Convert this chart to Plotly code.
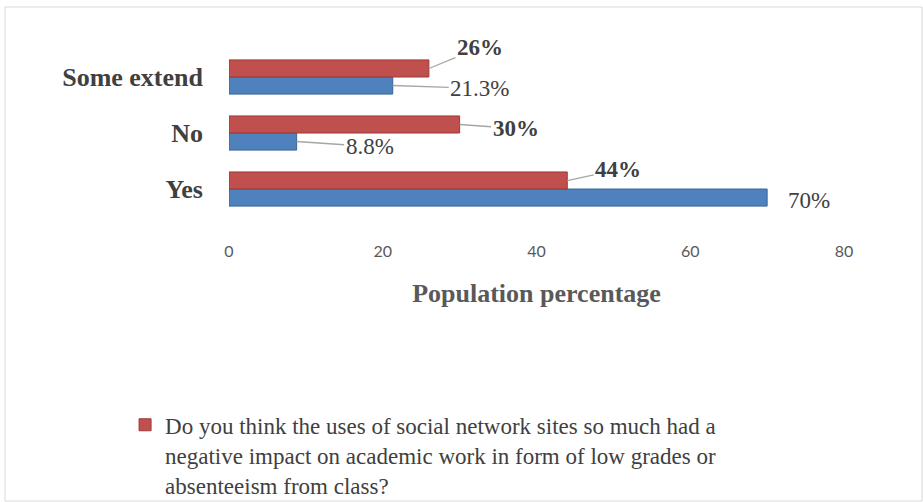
import plotly.graph_objects as go

categories = ["Yes", "No", "Some extend"]
negative_impact = [44, 30, 26]          # red series (legend)
other_series = [70, 8.8, 21.3]          # blue series
red_labels = ["44%", "30%", "26%"]
blue_labels = ["70%", "8.8%", "21.3%"]
x_ticks = [0, 20, 40, 60, 80]

legend_name = ("Do you think the uses of social network sites so much had a<br>"
               "negative impact on academic work in form of low grades or<br>"
               "absenteeism from class?")

RED = "#C0504D"
BLUE = "#4F81BD"
SERIF = "Times New Roman, Liberation Serif, serif"

fig = go.Figure()
fig.add_trace(go.Bar(
    y=categories, x=other_series, orientation="h", name="Series 2",
    marker=dict(color=BLUE, line=dict(color="#3A6597", width=1)),
    showlegend=False,
))
fig.add_trace(go.Bar(
    y=categories, x=negative_impact, orientation="h", name=legend_name,
    marker=dict(color=RED, line=dict(color="#9C3A37", width=1)),
))

# label offsets (pixels) for leader-line annotations
red_off = {"Some extend": (51, -21), "No": (56, 4), "Yes": (51, -11)}
blue_off = {"Some extend": (87, 3), "No": (73, 5), "Yes": (42, 3)}

for cat, v, lab in zip(categories, negative_impact, red_labels):
    ax, ay = red_off[cat]
    fig.add_annotation(x=v, y=cat, yshift=8.5, text=f"<b>{lab}</b>",
                       showarrow=True, arrowhead=0, arrowwidth=1.3, arrowcolor="#A6A6A6",
                       standoff=0, ax=ax, ay=ay,
                       font=dict(family=SERIF, size=23, color="#404040"))
for cat, v, lab in zip(categories, other_series, blue_labels):
    ax, ay = blue_off[cat]
    if cat == "Yes":
        fig.add_annotation(x=v, y=cat, yshift=-8.5 - ay, xshift=ax, text=lab,
                           showarrow=False,
                           font=dict(family=SERIF, size=23, color="#404040"))
    else:
        fig.add_annotation(x=v, y=cat, yshift=-8.5, text=lab,
                           showarrow=True, arrowhead=0, arrowwidth=1.3,
                           arrowcolor="#A6A6A6", standoff=0, ax=ax, ay=ay,
                           font=dict(family=SERIF, size=23, color="#404040"))

fig.update_layout(
    width=923, height=502,
    margin=dict(l=229, r=79, t=49, b=262, autoexpand=False),
    font=dict(family=SERIF, color="#404040"),
    paper_bgcolor="white", plot_bgcolor="white",
    barmode="group", bargap=0.39, bargroupgap=0,
    xaxis=dict(range=[0, 80], tickvals=x_ticks, showgrid=False, zeroline=False,
               showline=False, ticks="", automargin=False,
               tickfont=dict(family="Lato", size=16, color="#595959"),
               title=dict(text="<b>Population percentage</b>", standoff=24,
                          font=dict(family=SERIF, size=26, color="#595959"))),
    yaxis=dict(categoryorder="array", categoryarray=categories, automargin=False,
               range=[-0.91, 2.5], showgrid=False, zeroline=False, showline=False,
               ticks="", ticklabelstandoff=25,
               tickfont=dict(family=SERIF, size=26, color="#404040"),
               tickprefix="<b>", ticksuffix="</b>"),
    legend=dict(x=-0.169, y=-0.855, xanchor="left", yanchor="top", valign="top",
                font=dict(family=SERIF, size=23, color="#404040"),
                bgcolor="rgba(0,0,0,0)"),
    shapes=[dict(type="rect", xref="paper", yref="paper",
                 x0=(5 - 229) / 615, x1=(922 - 229) / 615,
                 y0=(240 - 501) / 191, y1=(240 - 7) / 191,
                 line=dict(color="#D9D9D9", width=1), layer="below")],
)

fig.write_html("out.html")
